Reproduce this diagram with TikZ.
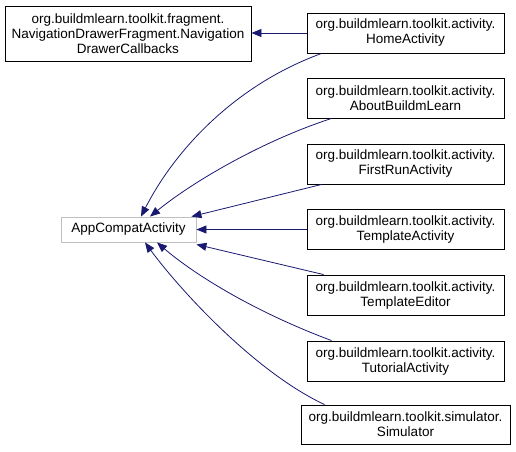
\documentclass[tikz,border=0pt]{standalone}
\usepackage{fontspec}
\setmainfont{Liberation Sans}
\usetikzlibrary{arrows.meta}
\definecolor{edgeblue}{HTML}{191970}
\definecolor{greyborder}{HTML}{BFBFBF}
\begin{document}
\begin{tikzpicture}[x=1pt,y=-1pt,
  cls/.style={draw=black,line width=0.9pt,fill=white,rectangle,align=center,inner sep=0pt,
    font=\fontsize{13.5}{15}\selectfont},
  act/.style={cls,minimum width=197pt,minimum height=40pt},
  base/.style={cls,draw=greyborder,minimum width=135pt,minimum height=25pt},
  edge/.style={draw=edgeblue,line width=0.8pt,-{Triangle[length=10pt,width=8pt]}}]
\useasboundingbox (0,0) rectangle (516,451);
\node[cls,minimum width=246pt,minimum height=55pt] (nav) at (128,33.5)
  {org.buildmlearn.toolkit.fragment.\\NavigationDrawerFragment.Navigation\\DrawerCallbacks};
\node[base] (app) at (128.5,229.5) {AppCompatActivity};
\node[act] (home) at (405.5,33) {org.buildmlearn.toolkit.activity.\\HomeActivity};
\node[act] (about) at (405.5,98) {org.buildmlearn.toolkit.activity.\\AboutBuildmLearn};
\node[act] (first) at (405.5,164) {org.buildmlearn.toolkit.activity.\\FirstRunActivity};
\node[act] (tmpl) at (405.5,229.5) {org.buildmlearn.toolkit.activity.\\TemplateActivity};
\node[act] (editor) at (405.5,295) {org.buildmlearn.toolkit.activity.\\TemplateEditor};
\node[act] (tut) at (405.5,361) {org.buildmlearn.toolkit.activity.\\TutorialActivity};
\node[act,minimum width=209pt,minimum height=39pt] (sim) at (405.5,424.5) {org.buildmlearn.toolkit.simulator.\\Simulator};

\draw[edge] (home.west) -- (nav.east |- home.west);
\draw[edge] ([xshift=15pt]home.south west) .. controls (235,85) and (175,150) .. ([xshift=12.5pt]app.north);
\draw[edge] ([xshift=25pt]about.south west) .. controls (265,140) and (195,180) .. ([xshift=21.5pt]app.north);
\draw[edge] ([xshift=15pt]first.south west) -- ([xshift=-5pt]app.north east);
\draw[edge] (tmpl.west) -- (app.east);
\draw[edge] ([xshift=17pt]editor.north west) -- ([yshift=-2pt]app.south east);
\draw[edge] ([xshift=25pt]tut.north west) .. controls (255,312) and (195,275) .. ([xshift=28.5pt]app.south);
\draw[edge] ([xshift=24pt]sim.north west) .. controls (255,372) and (180,290) .. ([xshift=16.5pt]app.south);
\end{tikzpicture}
\end{document}
